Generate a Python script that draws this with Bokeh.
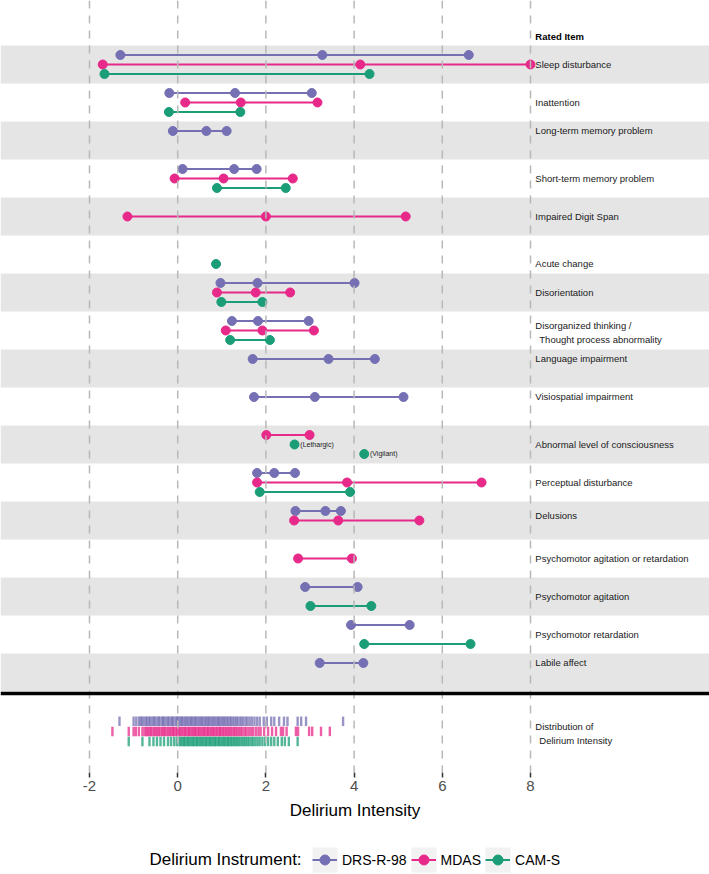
from bokeh.plotting import figure
from bokeh.models import Range1d, Span, FixedTicker, Legend, LegendItem, Label
from bokeh.layouts import column
from bokeh.embed import file_html
from bokeh.resources import INLINE
from bokeh.core.properties import value

# ---------------- data ----------------
items = [
    "Sleep disturbance",
    "Inattention",
    "Long-term memory problem",
    "Short-term memory problem",
    "Impaired Digit Span",
    "Acute change",
    "Disorientation",
    "Disorganized thinking /\n Thought process abnormality",
    "Language impairment",
    "Visiospatial impairment",
    "Abnormal level of consciousness",
    "Perceptual disturbance",
    "Delusions",
    "Psychomotor agitation or retardation",
    "Psychomotor agitation",
    "Psychomotor retardation",
    "Labile affect",
]

drs = [
    [-1.30, 3.28, 6.60],
    [-0.19, 1.30, 3.04],
    [-0.11, 0.65, 1.11],
    [0.11, 1.28, 1.79],
    None,
    None,
    [0.97, 1.81, 4.01],
    [1.23, 1.82, 2.97],
    [1.70, 3.42, 4.47],
    [1.73, 3.11, 5.12],
    None,
    [1.80, 2.19, 2.66],
    [2.67, 3.35, 3.70],
    None,
    [2.89, 4.08],
    [3.93, 5.26],
    [3.22, 4.21],
]

mdas = [
    [-1.70, 4.14, 8.00],
    [0.17, 1.43, 3.17],
    None,
    [-0.07, 1.04, 2.61],
    [-1.14, 2.00, 5.17],
    None,
    [0.89, 1.77, 2.55],
    [1.09, 1.92, 3.09],
    None,
    None,
    [2.01, 2.99],
    [1.80, 3.84, 6.89],
    [2.64, 3.64, 5.48],
    [2.73, 3.95],
    None,
    None,
    None,
]

cam = [
    [-1.66, 4.35],
    [-0.20, 1.42],
    None,
    [0.89, 2.45],
    None,
    [0.87],
    [0.99, 1.92],
    [1.19, 2.09],
    None,
    None,
    None,
    [1.86, 3.91],
    None,
    None,
    [3.01, 4.39],
    [4.23, 6.64],
    None,
]

cam_lethargic = 2.65
cam_vigilant = 4.23
lethargic_label = "(Lethargic)"
vigilant_label = "(Vigilant)"

drs_rug = [-1.32, -1.00, -0.94, -0.88,
           -0.84, -0.81, -0.77, -0.72, -0.70, -0.65, -0.63, -0.58, -0.54, -0.52,
           -0.47, -0.43, -0.41, -0.36, -0.33, -0.31, -0.26, -0.22, -0.20, -0.15,
           -0.12, -0.10, -0.05, -0.02, 0.00, 0.04, 0.07, 0.10, 0.13, 0.17, 0.20,
           0.23, 0.27, 0.30, 0.32, 0.36, 0.39, 0.42, 0.45, 0.49, 0.52, 0.55, 0.58,
           0.62, 0.65, 0.68, 0.71, 0.74, 0.78, 0.81, 0.84, 0.88, 0.91, 0.94, 0.97,
           1.01, 1.04, 1.07, 1.11, 1.14, 1.18, 1.21, 1.25, 1.29, 1.33, 1.36, 1.41,
           1.45, 1.49, 1.54, 1.58, 1.63, 1.68, 1.74, 1.80,
           1.86, 1.95, 2.02, 2.12, 2.19, 2.30, 2.41, 2.49, 2.72, 2.80, 2.91, 3.75]

mdas_rug = [-1.48, -1.11, -1.00, -0.95, -0.88, -0.80, -0.75,
            -0.71, -0.68, -0.64, -0.61, -0.57, -0.53, -0.50, -0.46, -0.43, -0.39,
            -0.35, -0.32, -0.29, -0.25, -0.21, -0.18, -0.14, -0.11, -0.08, -0.04,
            -0.01, 0.03, 0.06, 0.09, 0.13, 0.16, 0.19, 0.23, 0.26, 0.29, 0.33, 0.36,
            0.39, 0.42, 0.46, 0.49, 0.52, 0.56, 0.59, 0.62, 0.66, 0.69, 0.72, 0.76,
            0.79, 0.82, 0.86, 0.89, 0.93, 0.96, 0.99, 1.03, 1.06, 1.10, 1.13, 1.17,
            1.20, 1.24, 1.28, 1.31, 1.35, 1.39, 1.43, 1.47, 1.52, 1.56, 1.61, 1.66,
            1.71, 1.77, 1.83, 1.88,
            1.96, 2.05, 2.14, 2.23, 2.34, 2.39, 2.47, 2.68, 2.73, 2.98, 3.05, 3.25, 3.45]

cam_rug = [-1.11, -0.80, -0.64, -0.55, -0.47, -0.39, -0.31, -0.22, -0.15, -0.08, -0.02,
           0.04, 0.07, 0.11, 0.14, 0.17, 0.21, 0.24, 0.27, 0.31, 0.34, 0.37, 0.41,
           0.44, 0.47, 0.51, 0.54, 0.57, 0.61, 0.64, 0.67, 0.71, 0.74, 0.77, 0.81,
           0.84, 0.87, 0.91, 0.94, 0.97, 1.01, 1.04, 1.07, 1.11, 1.14, 1.17, 1.21,
           1.24, 1.28, 1.31, 1.35, 1.38, 1.42, 1.46, 1.50, 1.54, 1.58, 1.62, 1.67,
           1.71, 1.76, 1.81, 1.86, 1.92, 1.98, 2.05, 2.12, 2.19, 2.27, 2.36,
           2.43, 2.52, 2.72]

x_ticks = [-2, 0, 2, 4, 6, 8]
x_tick_labels = ["-2", "0", "2", "4", "6", "8"]
header = "Rated Item"
rug_label = "Distribution of\n Delirium Intensity"
instruments = ["DRS-R-98", "MDAS", "CAM-S"]
colors = ["#7570B3", "#E7298A", "#1B9E77"]
x_title = "Delirium Intensity"
legend_title = "Delirium Instrument:"

# ---------------- layout constants ----------------
FONT = "Liberation Sans"
LABEL_X = 8.11
INDENT = 0.09
LINE_GAP = 0.19
slot = {"DRS-R-98": 0.25, "MDAS": 0.0, "CAM-S": -0.25}
ABN = items.index("Abnormal level of consciousness")
RUG_CENTER = -17.55
RUG_OFF = {"DRS-R-98": 0.265, "MDAS": 0.0, "CAM-S": -0.265}
RUG_HALF = 0.125

p = figure(frame_width=709, frame_height=772,
           x_range=Range1d(-4.0181, 12.059), y_range=Range1d(-18.632, 1.6842),
           output_backend="svg", toolbar_location=None, y_axis_location=None,
           min_border_left=0, min_border_right=0, min_border_top=0, min_border_bottom=74)
p.outline_line_color = None
p.grid.visible = False
p.background_fill_color = "white"
p.border_fill_color = "white"

# alternating bands
band_y = [-i for i in range(len(items)) if i % 2 == 0]
p.hbar(y=band_y, left=-10, right=20, height=1.0, fill_color="#E5E5E5", line_color=None)

# dumbbells
series = {"DRS-R-98": drs, "MDAS": mdas, "CAM-S": cam}
label_offsets = {i: [] for i in range(len(items))}
for name, col in zip(instruments, colors):
    x0, x1, sy, px, py = [], [], [], [], []
    for i, vals in enumerate(series[name]):
        if vals is None:
            continue
        off = slot[name]
        if i == ABN and name == "MDAS":
            off = 0.25
        y = -i + off
        label_offsets[i].append(off)
        if len(vals) > 1:
            x0.append(min(vals)); x1.append(max(vals)); sy.append(y)
        for v in vals:
            px.append(v); py.append(y)
    if name == "CAM-S":
        for v, off in ((cam_lethargic, 0.0), (cam_vigilant, -0.25)):
            px.append(v); py.append(-ABN + off)
            label_offsets[ABN].append(off)
    p.segment(x0=x0, x1=x1, y0=sy, y1=sy, line_color=col, line_width=2)
    p.scatter(x=px, y=py, size=9, fill_color=col, line_color=col)

# state annotations
p.text(x=[cam_lethargic + 0.13, cam_vigilant + 0.13], y=[-ABN + 0.0, -ABN - 0.25],
       text=[lethargic_label, vigilant_label], text_font=value(FONT), text_font_size="7px",
       text_baseline="middle", text_align="left", text_color="#222222")

# rug
for name, col, rug in zip(instruments, colors, [drs_rug, mdas_rug, cam_rug]):
    yc = RUG_CENTER + RUG_OFF[name]
    p.segment(x0=rug, x1=rug, y0=[yc - RUG_HALF] * len(rug), y1=[yc + RUG_HALF] * len(rug),
              line_color=col, line_width=2.4, line_alpha=0.75)

# row labels (wrapped labels split into separate lines)
all_labels = list(items) + [rug_label]
all_y = [-i + sum(o) / len(o) for i, o in label_offsets.items()] + [RUG_CENTER]
tx, ty, tt = [], [], []
for lab, yc in zip(all_labels, all_y):
    lines = lab.split("\n")
    n = len(lines)
    for k, line in enumerate(lines):
        lead = len(line) - len(line.lstrip(" "))
        tx.append(LABEL_X + INDENT * lead)
        ty.append(yc + LINE_GAP * (n - 1 - 2 * k) - (0.05 if n > 1 else 0))
        tt.append(line.lstrip(" "))
p.text(x=tx, y=ty, text=tt, text_font=value(FONT),
       text_font_size="9.5px", text_baseline="middle", text_align="left",
       text_color="#1A1A1A")
p.text(x=[LABEL_X], y=[0.74], text=[header], text_font=value(FONT),
       text_font_size="9.5px", text_font_style="bold", text_baseline="middle",
       text_align="left", text_color="black")

# dashed reference lines and separator
for v in x_ticks:
    p.add_layout(Span(location=v, dimension="height", line_color="#B8B8B8",
                      line_dash="8 7", line_width=1.5))
p.add_layout(Span(location=-16.55, dimension="width", line_color="black", line_width=3.5))

# axis
ax = p.xaxis[0]
ax.ticker = FixedTicker(ticks=x_ticks)
ax.major_label_overrides = {t: s for t, s in zip(x_ticks, x_tick_labels)}
ax.axis_line_color = None
ax.major_tick_in = 0
ax.major_tick_out = 5
ax.major_tick_line_color = "#333333"
ax.major_tick_line_width = 1.5
ax.minor_tick_line_color = None
ax.major_label_text_font = FONT
ax.major_label_text_font_size = "15px"
ax.major_label_text_color = "#4D4D4D"
ax.major_label_standoff = 3
ax.axis_label = x_title
ax.axis_label_text_font = FONT
ax.axis_label_text_font_size = "17px"
ax.axis_label_text_font_style = "normal"
ax.axis_label_text_color = "black"
ax.axis_label_standoff = 7

# ---------------- legend strip ----------------
lg = figure(frame_width=709, frame_height=28, x_range=Range1d(0, 709), y_range=Range1d(0, 28),
            output_backend="svg", toolbar_location=None, x_axis_location=None,
            y_axis_location=None, min_border=0)
lg.outline_line_color = None
lg.grid.visible = False
# grey key backgrounds (legend styling)
lg.quad(left=[312, 411, 485], right=[337, 436, 510], bottom=[2, 2, 2], top=[27, 27, 27],
        fill_color="#F2F2F2", line_color=None)
legend_items = []
for name, col in zip(instruments, colors):
    # off-screen proxy glyphs so the legend can draw each key
    r1 = lg.segment(x0=[-50], x1=[-40], y0=[-50], y1=[-50], line_color=col, line_width=2)
    r2 = lg.scatter(x=[-50], y=[-50], size=7, fill_color=col, line_color=col)
    legend_items.append(LegendItem(label=name, renderers=[r1, r2]))
legend = Legend(
    items=legend_items, orientation="horizontal",
    label_text_font=FONT, label_text_font_size="14px", label_text_color="black",
    glyph_width=25, glyph_height=25, label_standoff=5, spacing=4,
    border_line_color=None, background_fill_alpha=0, padding=0, margin=0,
    location=(312, 2),
)
lg.add_layout(legend, "center")
lg.add_layout(Label(x=149, y=15, x_units="screen", y_units="screen", text=legend_title,
                    text_font=FONT, text_font_size="17px", text_color="black",
                    text_baseline="middle", text_align="left"))

page = column(p, lg, spacing=0)
open("out.html", "w").write(file_html(page, INLINE))
